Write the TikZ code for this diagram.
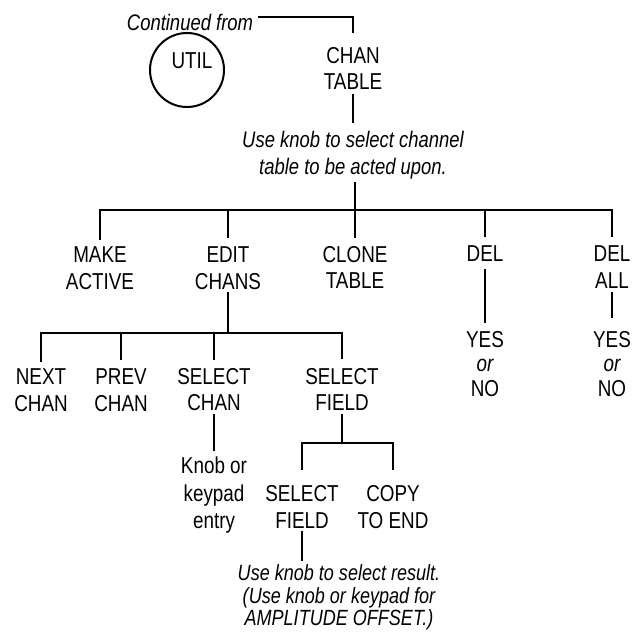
\documentclass[tikz,border=0pt]{standalone}
\usepackage{fontspec}
\setmainfont{Liberation Sans}[FakeStretch=0.82]
\newcommand\lblfont{\fontsize{23}{26.5}\selectfont}
\newcommand\ynfont{\fontsize{23}{24.5}\selectfont}
\newcommand\notefont{\fontsize{22.5}{27}\selectfont\itshape}
\newcommand\notefontb{\fontsize{22}{22.5}\selectfont\itshape}
\begin{document}
\begin{tikzpicture}[x=1pt,y=-1pt,
  lbl/.style={font=\lblfont, align=center, inner sep=0pt, outer sep=0pt, anchor=north},
  ynlbl/.style={font=\ynfont, align=center, inner sep=0pt, outer sep=0pt, anchor=north},
  notelbl/.style={font=\notefont, align=center, inner sep=0pt, outer sep=0pt, anchor=north},
  noteblbl/.style={font=\notefontb, align=center, inner sep=0pt, outer sep=0pt, anchor=north},
  ln/.style={line width=2.7pt, line cap=rect, line join=miter}]
\useasboundingbox (0,0) rectangle (640,644);
% texts
\node[notelbl] (cont) at (190,14) {Continued from};
\node[circle, draw, line width=2pt, minimum size=74pt, inner sep=0pt] (utilc) at (187,70) {};
\node[lbl, anchor=center] (util) at (192,61) {UTIL};
\node[lbl] (chan) at (353,47) {CHAN\\TABLE};
\node[notelbl] (note1) at (353,131) {Use knob to select channel\\table to be acted upon.};
\node[lbl] (make) at (100,247) {MAKE\\ACTIVE};
\node[lbl] (edit) at (228,247) {EDIT\\CHANS};
\node[lbl] (clone) at (355,246) {CLONE\\TABLE};
\node[lbl] (del) at (485,246) {DEL};
\node[lbl] (delall) at (612,246) {DEL\\ALL};
\node[ynlbl] (yn1) at (485,331) {YES\\{\itshape or}\\NO};
\node[ynlbl] (yn2) at (612,331) {YES\\{\itshape or}\\NO};
\node[lbl] (next) at (41,369) {NEXT\\CHAN};
\node[lbl] (prev) at (121,369) {PREV\\CHAN};
\node[lbl] (selchan) at (214,368) {SELECT\\CHAN};
\node[lbl] (selfield) at (342,368) {SELECT\\FIELD};
\node[lbl, font=\fontsize{23}{27.5}\selectfont] (knob) at (214,457) {Knob or\\keypad\\entry};
\node[lbl, font=\fontsize{23}{27}\selectfont] (selfield2) at (302,485) {SELECT\\FIELD};
\node[lbl, font=\fontsize{23}{27}\selectfont] (copy) at (393,485) {COPY\\TO END};
\node[noteblbl] (note2) at (339,565) {Use knob to select result.\\(Use knob or keypad for\\AMPLITUDE OFFSET.)};
% connectors
\path (cont.east) ++(6,0) coordinate (c0);
\draw[ln] (c0 |- 0,17) -| (chan.north |- 0,32);
\draw[ln] (chan.south |- 0,95) -- (chan.south |- 0,122);
\draw[ln] (clone.north |- 0,183) -- (clone.north |- 0,237);
\draw[ln] (make.north |- 0,239) -- (make.north |- 0,210) -- (delall.north |- 0,210) -- (delall.north |- 0,236);
\draw[ln] (edit.north |- 0,210) -- (edit.north |- 0,237);
\draw[ln] (del.north |- 0,210) -- (del.north |- 0,236);
\draw[ln] (del.south |- 0,270) -- (del.south |- 0,322);
\draw[ln] (delall.south |- 0,293) -- (delall.south |- 0,317);
\draw[ln] (edit.south |- 0,293) -- (edit.south |- 0,333);
\draw[ln] (next.north |- 0,361) -- (next.north |- 0,333) -- (selfield.north |- 0,333) -- (selfield.north |- 0,358);
\draw[ln] (prev.north |- 0,333) -- (prev.north |- 0,359);
\draw[ln] (selchan.north |- 0,333) -- (selchan.north |- 0,359);
\draw[ln] (selchan.south |- 0,415) -- (selchan.south |- 0,450);
\draw[ln] (selfield.south |- 0,415) -- (selfield.south |- 0,443);
\draw[ln] (selfield2.north |- 0,469) -- (selfield2.north |- 0,443) -- (copy.north |- 0,443) -- (copy.north |- 0,469);
\draw[ln] (selfield2.south |- 0,532) -- (selfield2.south |- 0,560);
\end{tikzpicture}
\end{document}
